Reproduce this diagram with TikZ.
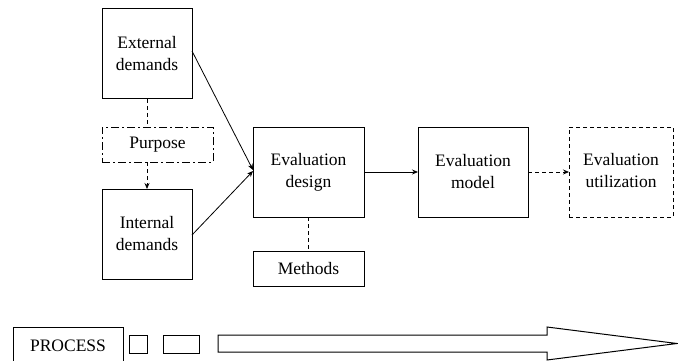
\documentclass[tikz,border=0pt]{standalone}
\usepackage{fontspec}
\setmainfont{Liberation Serif}
\usetikzlibrary{arrows.meta}
\begin{document}
\begin{tikzpicture}[x=1pt,y=-1pt,
  every node/.style={font=\fontsize{17.5}{22}\selectfont, align=center, inner sep=0pt, outer sep=0pt},
  box/.style={draw, line width=1pt},
  bigbox/.style={box, minimum width=90pt, minimum height=90pt},
  dashbox/.style={draw, line width=1pt, dash pattern=on 4pt off 3pt},
  dotdashbox/.style={draw, line width=1pt, dash pattern=on 8pt off 3pt on 2pt off 3pt},
  link/.style={line width=0.8pt, -{Stealth[length=6pt,width=5pt]}},
  dlink/.style={line width=0.8pt, dash pattern=on 4pt off 3pt},
  outline/.style={line width=1pt}]
\useasboundingbox (0,0) rectangle (678,361);
\clip (0,0) rectangle (678,361);

% left column: demands and purpose
\node[bigbox] (ext) at (147,54) {External\\demands};
\node[dotdashbox, minimum width=111pt, minimum height=35pt] (purp) at (157.5,144.5) {Purpose};
\node[bigbox] (int) at (147,234) {Internal\\demands};

% main chain
\node[box, minimum width=111pt, minimum height=90pt] (design) at (308.5,172) {\raisebox{3pt}{\begin{tabular}{@{}c@{}}Evaluation\\design\end{tabular}}};
\node[box, minimum width=111pt, minimum height=35pt] (methods) at (308.5,268.5) {Methods};
\node[box, minimum width=110pt, minimum height=90pt] (model) at (473,172) {Evaluation\\model};
\node[dashbox, minimum width=104pt, minimum height=90pt] (util) at (621,172) {\raisebox{5pt}{\begin{tabular}{@{}c@{}}Evaluation\\utilization\end{tabular}}};

% connectors
\draw[dlink] (ext.south) -- (ext.south |- purp.north);
\draw[dlink, -{Stealth[length=6pt,width=5pt]}] (purp.south -| int.north) -- (int.north);
\draw[link] ([yshift=3pt]ext.east) -- ([yshift=2pt]design.west);
\draw[link] ([yshift=-1pt]int.east) -- ([yshift=1pt]design.west);
\draw[dlink] (design.south) -- (methods.north);
\draw[link] (design.east) -- (model.west);
\draw[dlink, -{Stealth[length=6pt,width=5pt]}] (model.east) -- (util.west);

% process strip
\node[box, minimum width=110pt, minimum height=37pt] (process) at (68,345.5) {PROCESS};
\node[box, minimum width=18pt, minimum height=18pt] (sqa) at (138,344) {};
\node[box, minimum width=36pt, minimum height=18pt] (sqb) at (181,344) {};
\coordinate (tip) at (677,343.5);
\draw[outline] (218,335) -- (547,335) -- (547,327) -- (tip) -- (547,360) -- (547,352) -- (218,352) -- cycle;
\end{tikzpicture}
\end{document}
